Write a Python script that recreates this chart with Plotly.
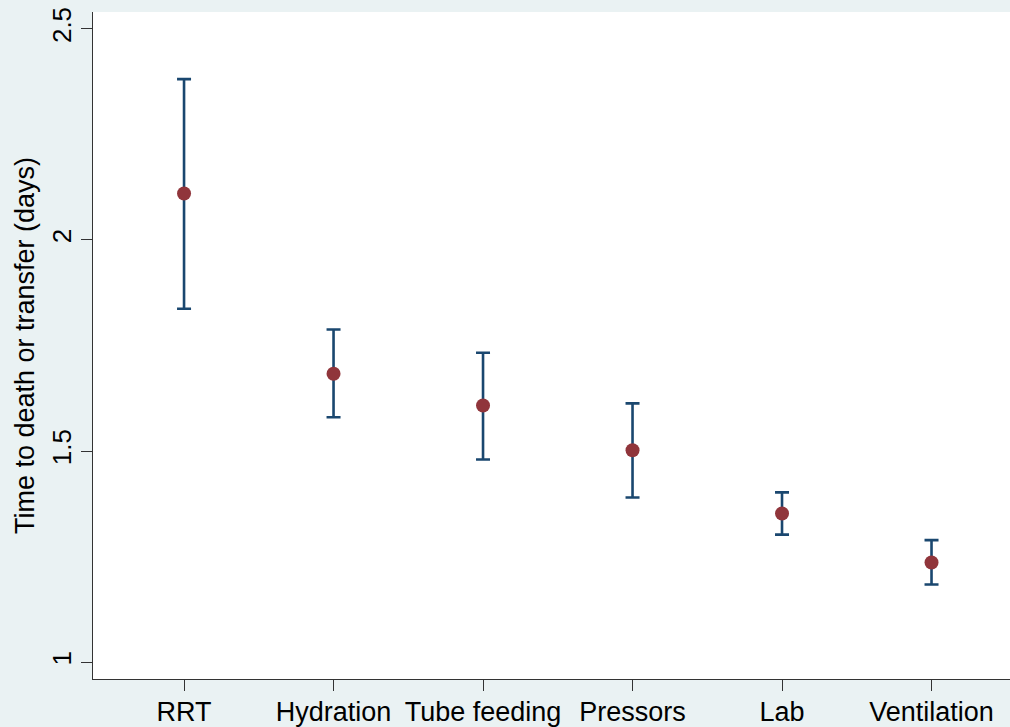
import plotly.graph_objects as go

categories = ["RRT", "Hydration", "Tube feeding", "Pressors", "Lab", "Ventilation"]
estimates = [2.110, 1.683, 1.608, 1.502, 1.352, 1.236]
upper = [2.381, 1.788, 1.733, 1.613, 1.402, 1.289]
lower = [1.837, 1.580, 1.480, 1.390, 1.302, 1.184]
y_ticks = [1, 1.5, 2, 2.5]
y_tick_labels = ["1", "1.5", "2", "2.5"]

xpos = list(range(len(categories)))
err_plus = [u - e for u, e in zip(upper, estimates)]
err_minus = [e - l for e, l in zip(estimates, lower)]

FONT = "Liberation Sans, Arial, sans-serif"
fig = go.Figure()
fig.add_trace(go.Scatter(
    x=xpos, y=estimates, mode="markers",
    marker=dict(color="#90353B", size=14, line=dict(width=0)),
    error_y=dict(type="data", symmetric=False, array=err_plus, arrayminus=err_minus,
                 color="#1A476F", thickness=2.6, width=7),
    showlegend=False,
))

fig.update_layout(
    width=1010, height=727,
    paper_bgcolor="#EAF2F3", plot_bgcolor="#FFFFFF",
    margin=dict(l=93, r=0, t=12, b=48, pad=0),
    font=dict(family=FONT, size=27, color="#000000"),
    xaxis=dict(
        tickmode="array", tickvals=xpos, ticktext=categories,
        range=[-0.609, 5.525], showgrid=False, zeroline=False,
        showline=True, linecolor="#333333", linewidth=1.2,
        ticks="outside", ticklen=11, tickcolor="#333333", tickwidth=1,
        tickfont=dict(size=27), automargin=False, ticklabelstandoff=-3,
    ),
    yaxis=dict(
        tickmode="array", tickvals=y_ticks, ticktext=y_tick_labels,
        range=[0.960, 2.540], showgrid=False, zeroline=False,
        showline=True, linecolor="#333333", linewidth=1.2,
        ticks="outside", ticklen=11, tickcolor="#333333", tickwidth=1,
        tickangle=-90, tickfont=dict(size=26), automargin=False,
        title=dict(text="Time to death or transfer (days)", font=dict(size=27), standoff=4),
    ),
)

fig.write_html(
    "out.html",
    config={"displayModeBar": False},
    post_script="document.body.style.margin='0';document.body.style.overflow='hidden';",
)
